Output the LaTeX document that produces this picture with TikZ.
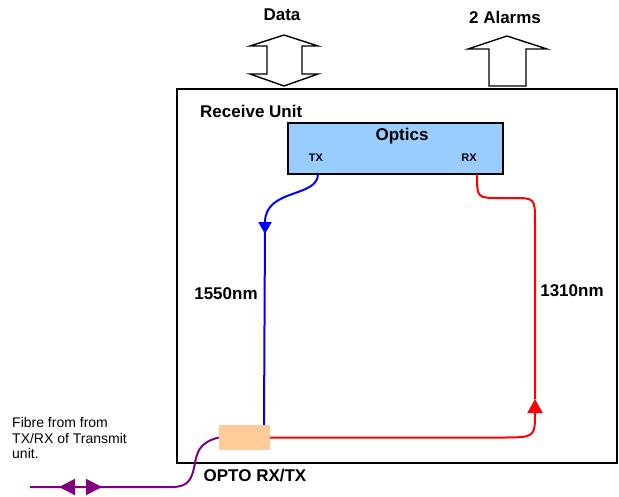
\documentclass[tikz,border=0pt]{standalone}
\usepackage{fontspec}
\setmainfont{Liberation Sans}
\usetikzlibrary{arrows.meta,positioning}
\definecolor{opticsblue}{RGB}{153,204,255}
\definecolor{optopeach}{RGB}{255,204,153}
\definecolor{fibrepurple}{RGB}{128,0,128}

\begin{document}
\begin{tikzpicture}
		[x=1pt,y=-1pt,
		big label/.style={font=\bfseries\fontsize{17}{20}\selectfont,inner sep=0pt},
		small label/.style={font=\bfseries\fontsize{11}{13}\selectfont,inner sep=0pt},
		block arrow/.style={draw,line width=1.4pt,fill=white,line join=miter},
		fibre/.style={line width=2pt}]
		\useasboundingbox (0,0) rectangle (619,496);
		
		\node[draw,line width=1.8pt,minimum width=440,minimum height=374,inner sep=0pt] (unit) at (397,276) {};
		\node[big label,anchor=west] (title) at (200,111) {Receive Unit};
		
		\node[draw,line width=2.2pt,fill=opticsblue,minimum width=215,minimum height=51,inner sep=0pt] (optics) at (395.5,148.5) {};
		\node[big label] (opticstext) at (402,136) {Optics};
		\node[small label] (tx) at (316,158) {TX};
		\node[small label] (rx) at (469,158) {RX};
		\coordinate (txout) at (318,174);
		\coordinate (rxout) at (477,174);
		
		\node[fill=optopeach,minimum width=51,minimum height=25,inner sep=0pt] (opto) at (244.5,437.5) {};
		\node[big label] (optotext) at (255,476) {OPTO RX/TX};
		\coordinate (bluein) at (264,425);
		
		% top block arrows
		\node[big label] (data) at (282,15) {Data};
		\node[big label] (alarms) at (505,17) {2 Alarms};
		\draw[block arrow] (284,35) -- (318,46) -- (302,46) -- (302,74) -- (318,74) -- (284,86)
		-- (250,74) -- (267,74) -- (267,46) -- (250,46) -- cycle;
		\draw[block arrow] (507,36) -- (547,49) -- (526,49) -- (526,86) -- (489,86) -- (489,49) -- (468,49) -- cycle;
		
		% 1550nm
		\draw[fibre,blue,-{Triangle[width=13pt,length=12pt]}] (txout) .. controls (318,198) and (265,188) .. (265,234);
		\draw[fibre,blue] (265,225) -- (bluein);
		\node[big label] (blue nm) at (226,294) {1550nm};
		
		% 1310nm
		\coordinate (redtip) at (535,399);
		\draw[fibre,red,-{Triangle[width=15pt,length=14pt]}] (opto.east) -- (500,437.5) .. controls (535,437.5) .. (redtip);
		\draw[fibre,red] (redtip) -- (535,222) .. controls (535,198) .. (512,198) -- (500,198) .. controls (477,198) .. (rxout);
		\node[big label] (red nm) at (572,291) {1310nm};
		
		% fibre from transmit unit
		\coordinate (fibreend) at (30,487);
		\draw[fibre,fibrepurple] (opto.west) .. controls (200,442) and (197,452) .. (195,463)
		.. controls (192,480) and (188,487) .. (172,487) -- (fibreend);
		\draw[fibre,fibrepurple,{Triangle[width=16pt,length=16pt]}-{Triangle[width=16pt,length=16pt]}] (59,487) -- (102,487);
		\node[font=\fontsize{14}{15.5}\selectfont,align=left,inner sep=0pt,anchor=west] (fibretext) at (12,438)
		{Fibre from from\\TX/RX of Transmit\\unit.};
		
\end{tikzpicture}
\end{document}
